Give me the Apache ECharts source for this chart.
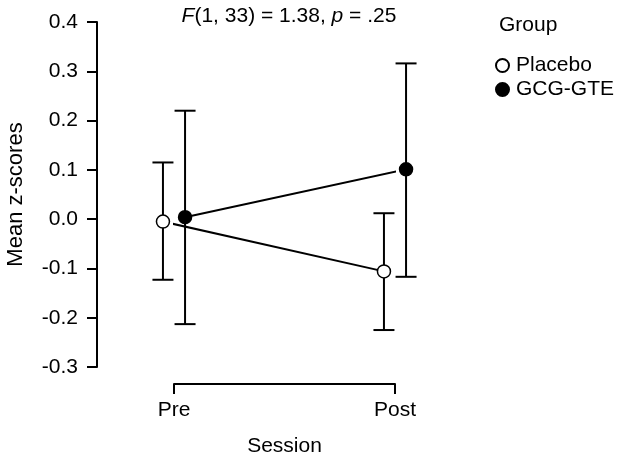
<!DOCTYPE html>
<html>
<head>
<meta charset="utf-8">
<script src="https://cdn.jsdelivr.net/npm/echarts@6/dist/echarts.min.js"></script>
<style>html,body{margin:0;padding:0;background:#fff;}#c{width:624px;height:462px;}</style>
</head>
<body>
<div id="c"></div>
<script>
var sessions = ['Pre', 'Post'];
var groups = ['Placebo', 'GCG-GTE'];
var placeboMean = [-0.005, -0.106];
var placeboLow = [-0.123, -0.225];
var placeboHigh = [0.115, 0.012];
var gcgMean = [0.004, 0.101];
var gcgLow = [-0.213, -0.117];
var gcgHigh = [0.220, 0.316];
var yTicks = [-0.3, -0.2, -0.1, 0.0, 0.1, 0.2, 0.3, 0.4];
var dodge = 0.05;

var FONT = 'Liberation Sans, Arial, sans-serif';
var FS = 21;

function pts(mean, off) {
  return mean.map(function (v, i) { return [i + 1 + off, v]; });
}
function bars(low, high, off) {
  return low.map(function (v, i) { return [i + 1 + off, v, high[i]]; });
}
function errRender(params, api) {
  var x = api.value(0);
  var lo = api.coord([x, api.value(1)]);
  var hi = api.coord([x, api.value(2)]);
  var hw = 10.5;
  var st = { stroke: '#000', lineWidth: 2 };
  return {
    type: 'group',
    children: [
      { type: 'line', shape: { x1: lo[0], y1: lo[1], x2: hi[0], y2: hi[1] }, style: st },
      { type: 'line', shape: { x1: lo[0] - hw, y1: lo[1], x2: lo[0] + hw, y2: lo[1] }, style: st },
      { type: 'line', shape: { x1: hi[0] - hw, y1: hi[1], x2: hi[0] + hw, y2: hi[1] }, style: st }
    ]
  };
}

var chart = echarts.init(document.getElementById('c'), null, { renderer: 'canvas' });
chart.setOption({
  backgroundColor: '#fff',
  animation: false,
  textStyle: { fontFamily: FONT, color: '#000' },
  title: [{
    text: '{i|F}{n|(1, 33) = 1.38, }{i|p}{n| = .25}',
    left: 284, top: 1, textAlign: 'center',
    textStyle: {
      fontWeight: 'normal',
      rich: {
        i: { fontStyle: 'italic', fontWeight: 'normal', fontSize: FS, fontFamily: FONT, color: '#000' },
        n: { fontWeight: 'normal', fontSize: FS, fontFamily: FONT, color: '#000' }
      }
    }
  }, {
    text: 'Group', left: 494, top: 10,
    textStyle: { fontSize: FS, fontWeight: 'normal', fontFamily: FONT, color: '#000' }
  }],
  legend: {
    orient: 'vertical', left: 490, top: 50,
    itemWidth: 13, itemHeight: 13, itemGap: 3,
    icon: 'circle',
    data: groups,
    textStyle: { fontSize: FS, fontFamily: FONT, color: '#000', lineHeight: 21, padding: [0, 0, 0, 2] }
  },
  grid: { left: 174, right: 229, top: 22, bottom: 95, containLabel: false },
  xAxis: {
    type: 'value', min: 1, max: 2, interval: 1, offset: 17,
    name: 'Session', nameLocation: 'middle', nameGap: 52,
    nameTextStyle: { fontSize: FS, fontFamily: FONT, color: '#000' },
    axisLine: { show: true, onZero: false, lineStyle: { color: '#000', width: 2 } },
    axisTick: { show: true, inside: false, length: 10, lineStyle: { color: '#000', width: 2 } },
    axisLabel: { fontSize: FS, fontFamily: FONT, color: '#000', margin: 16,
      formatter: function (v) { return sessions[Math.round(v) - 1] || ''; } },
    splitLine: { show: false }
  },
  yAxis: {
    type: 'value', min: -0.3, max: 0.4, interval: 0.1, offset: 77,
    name: 'Mean z-scores', nameLocation: 'middle', nameGap: 70,
    nameTextStyle: { fontSize: 22, fontFamily: FONT, color: '#000' },
    axisLine: { show: true, onZero: false, lineStyle: { color: '#000', width: 2 } },
    axisTick: { show: true, inside: false, length: 10, lineStyle: { color: '#000', width: 2 } },
    axisLabel: { fontSize: FS, fontFamily: FONT, color: '#000', margin: 19,
      formatter: function (v) { return v.toFixed(1); } },
    splitLine: { show: false }
  },
  series: [{
    type: 'custom', name: 'errP', renderItem: errRender, clip: false, z: 1,
    data: bars(placeboLow, placeboHigh, -dodge), silent: true
  }, {
    type: 'custom', name: 'errG', renderItem: errRender, clip: false, z: 1,
    data: bars(gcgLow, gcgHigh, dodge), silent: true
  }, {
    type: 'line', name: groups[0], data: pts(placeboMean, -dodge), clip: false, z: 3,
    symbol: 'circle', symbolSize: 13,
    lineStyle: { color: '#000', width: 2 },
    itemStyle: { color: '#fff', borderColor: '#000', borderWidth: 1.5 }
  }, {
    type: 'line', name: groups[1], data: pts(gcgMean, dodge), clip: false, z: 3,
    symbol: 'circle', symbolSize: 13,
    lineStyle: { color: '#000', width: 2 },
    itemStyle: { color: '#000', borderColor: '#000', borderWidth: 1.5 }
  }]
});
</script>
</body>
</html>
